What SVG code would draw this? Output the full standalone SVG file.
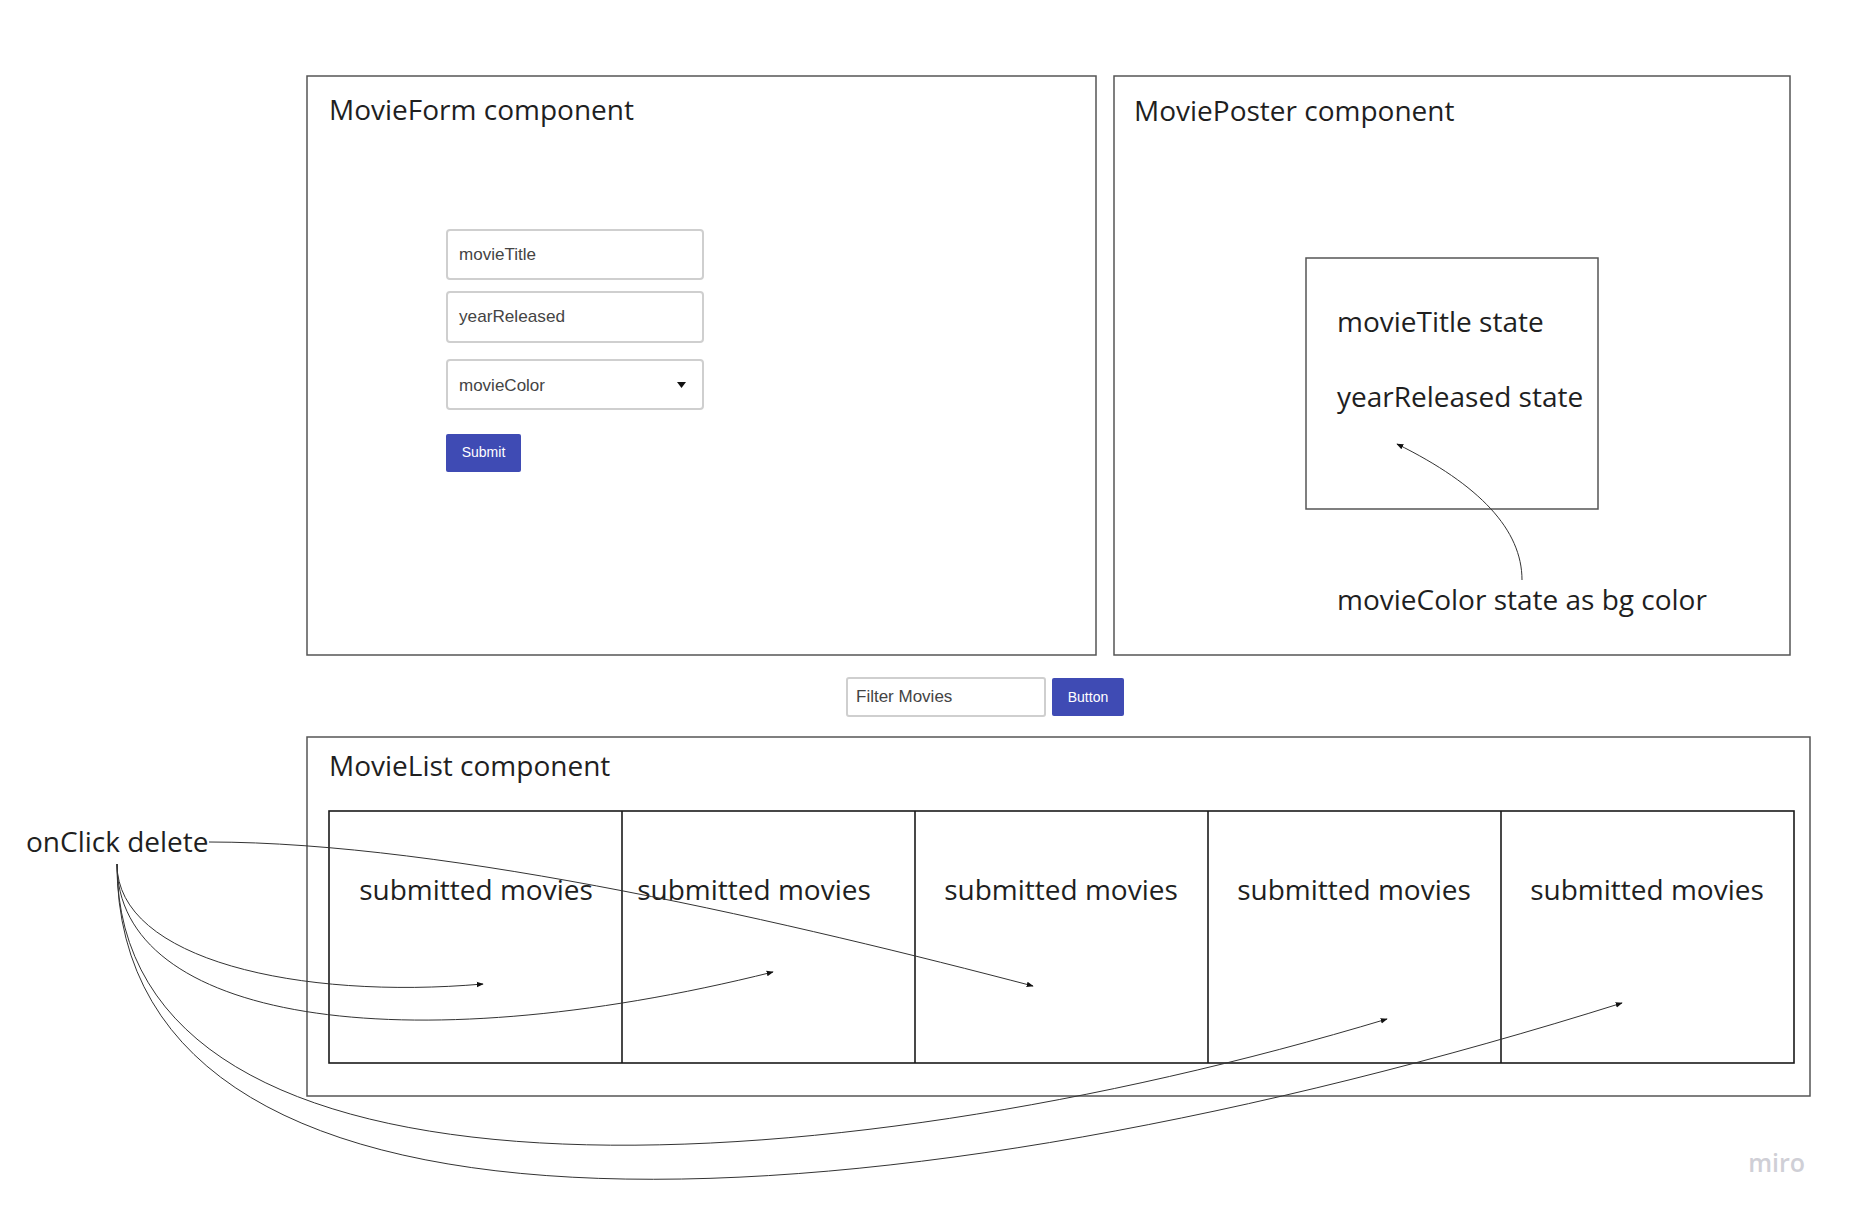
<svg xmlns="http://www.w3.org/2000/svg" width="1849" height="1216" viewBox="0 0 1849 1216">
<style>
.frame{fill:#fff;stroke:#555;stroke-width:1.5}
.cell{fill:none;stroke:#1a1a1a;stroke-width:1.6}
.big{font-family:"Open Sans","DejaVu Sans",sans-serif;font-size:28px;fill:#1f1f1f}
.inp{fill:#fff;stroke:#cfcfcf;stroke-width:2}
.itxt{font-family:"Liberation Sans",Arial,sans-serif;font-size:17px;fill:#444}
.btn{fill:#3f4bb4}
.btxt{font-family:"Liberation Sans",Arial,sans-serif;font-size:14px;fill:#fff;text-anchor:middle}
.conn{fill:none;stroke:#333;stroke-width:1}
</style>
<defs>
<marker id="ah" viewBox="0 0 10 10" refX="9" refY="5" markerWidth="7" markerHeight="7" orient="auto" markerUnits="userSpaceOnUse">
<path d="M0,1 L10,5 L0,9 z" fill="#111"/>
</marker>
</defs>
<rect width="1849" height="1216" fill="#fff"/>

<g id="movieform">
<rect class="frame" x="307" y="76" width="789" height="579"/>
<text class="big" x="329" y="120">MovieForm component</text>
<g id="input-title">
<rect class="inp" x="447" y="230" width="256" height="49" rx="3"/>
<text class="itxt" x="459" y="260" textLength="77" lengthAdjust="spacingAndGlyphs">movieTitle</text>
</g>
<g id="input-year">
<rect class="inp" x="447" y="292" width="256" height="50" rx="3"/>
<text class="itxt" x="459" y="322" textLength="106" lengthAdjust="spacingAndGlyphs">yearReleased</text>
</g>
<g id="input-color">
<rect class="inp" x="447" y="360" width="256" height="49" rx="3"/>
<text class="itxt" x="459" y="391" textLength="86" lengthAdjust="spacingAndGlyphs">movieColor</text>
<path d="M677,382 L686,382 L681.5,388 z" fill="#111"/>
</g>
<g id="submit">
<rect class="btn" x="446" y="434" width="75" height="38" rx="2"/>
<text class="btxt" x="483.5" y="457">Submit</text>
</g>
</g>

<g id="movieposter">
<rect class="frame" x="1114" y="76" width="676" height="579"/>
<text class="big" x="1134" y="121">MoviePoster component</text>
<rect class="frame" x="1306" y="258" width="292" height="251"/>
<text class="big" x="1337" y="332">movieTitle state</text>
<text class="big" x="1337" y="407">yearReleased state</text>
<text class="big" x="1337" y="610">movieColor state as bg color</text>
</g>

<g id="filter">
<rect class="inp" x="847" y="678" width="198" height="38" rx="2" stroke-width="1.5"/>
<text class="itxt" x="856" y="702" font-size="13">Filter Movies</text>
<rect class="btn" x="1052" y="678" width="72" height="38" rx="2"/>
<text class="btxt" x="1088" y="702" font-size="13">Button</text>
</g>

<g id="movielist">
<rect class="frame" x="307" y="737" width="1503" height="359"/>
<text class="big" x="329" y="776">MovieList component</text>
<rect class="cell" x="329" y="811" width="1465" height="252"/>
<line class="cell" x1="622" y1="811" x2="622" y2="1063"/>
<line class="cell" x1="915" y1="811" x2="915" y2="1063"/>
<line class="cell" x1="1208" y1="811" x2="1208" y2="1063"/>
<line class="cell" x1="1501" y1="811" x2="1501" y2="1063"/>
<g class="big" text-anchor="middle">
<text x="476" y="900">submitted movies</text>
<text x="754" y="900">submitted movies</text>
<text x="1061" y="900">submitted movies</text>
<text x="1354" y="900">submitted movies</text>
<text x="1647" y="900">submitted movies</text>
</g>
</g>

<g id="onclick">
<text class="big" x="26" y="852">onClick delete</text>
</g>

<g id="miro">
<text x="1805" y="1172" text-anchor="end" font-family="Open Sans, sans-serif" font-size="25" font-weight="600" fill="#cfcfd6">miro</text>
</g>

<g id="connectors">
<path class="conn" marker-end="url(#ah)" d="M1522,580 C1522,530 1480,485 1397,444"/>
<path class="conn" marker-end="url(#ah)" d="M209,842 C450,842 800,925 1033,986"/>
<path class="conn" marker-end="url(#ah)" d="M117,864 C117,960 300,1000 483,984"/>
<path class="conn" marker-end="url(#ah)" d="M117,864 C117,1020 400,1065 773,972"/>
<path class="conn" marker-end="url(#ah)" d="M117,864 C117,1230 820,1190 1387,1019"/>
<path class="conn" marker-end="url(#ah)" d="M117,864 C117,1290 900,1230 1622,1003"/>
</g>
</svg>
